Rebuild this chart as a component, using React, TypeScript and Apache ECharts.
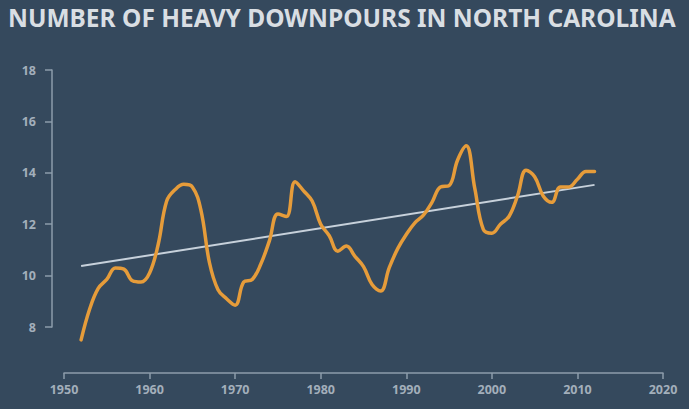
import React, { useEffect, useRef } from "react";
import * as echarts from "echarts";

const titleText = "NUMBER OF HEAVY DOWNPOURS IN NORTH CAROLINA";
const years = [
  1952, 1953, 1954, 1955, 1956, 1957, 1958, 1959, 1960, 1961,
  1962, 1963, 1964, 1965, 1966, 1967, 1968, 1969, 1970, 1971,
  1972, 1973, 1974, 1975, 1976, 1977, 1978, 1979, 1980, 1981,
  1982, 1983, 1984, 1985, 1986, 1987, 1988, 1989, 1990, 1991,
  1992, 1993, 1994, 1995, 1996, 1997, 1998, 1999, 2000, 2001,
  2002, 2003, 2004, 2005, 2006, 2007, 2008, 2009, 2010, 2011, 2012,
];
const downpours = [
  7.5, 8.7, 9.5, 9.85, 10.3, 10.25, 9.8, 9.75, 10.1, 11.2,
  12.9, 13.35, 13.55, 13.45, 12.55, 10.5, 9.45, 9.1, 8.85, 9.75,
  9.85, 10.45, 11.35, 12.4, 12.3, 13.65, 13.3, 12.9, 12.0, 11.55,
  10.95, 11.15, 10.75, 10.35, 9.65, 9.4, 10.3, 11.05, 11.6, 12.05,
  12.35, 12.85, 13.45, 13.5, 14.5, 15.05, 13.4, 11.8, 11.65, 12.0,
  12.3, 13.1, 14.1, 13.85, 13.1, 12.85, 13.45, 13.45, 13.75, 14.05, 14.05,
];
const trendYears = [1952, 2012];
const trendValues = [10.37, 13.53];

export default function App() {
  const ref = useRef<HTMLDivElement>(null);
  useEffect(() => {
    if (!ref.current) return;
    const chart = echarts.init(ref.current, undefined, { renderer: "svg" });
    const axisColor = "#8d9cab";
    const labelColor = "#a3afbb";
    chart.setOption({
      animation: false,
      backgroundColor: "#35495d",
      title: {
        text: titleText,
        left: 8,
        top: 5,
        padding: 0,
        textStyle: {
          color: "#d9dee3",
          fontSize: 24.5,
          fontWeight: "bold",
          fontFamily: "Noto Sans",
        },
      },
      grid: { left: 64, right: 26, top: 70, bottom: 82 },
      xAxis: {
        type: "value",
        min: 1950,
        max: 2020,
        interval: 10,
        offset: 46,
        splitLine: { show: false },
        axisLine: { show: true, lineStyle: { color: axisColor, width: 1.5 } },
        axisTick: { show: true, length: 6, lineStyle: { color: axisColor, width: 1.5 } },
        axisLabel: {
          color: labelColor,
          fontSize: 12.5,
          fontWeight: "bold",
          fontFamily: "Noto Sans",
          margin: 10,
          formatter: (v: number) => String(v),
        },
      },
      yAxis: {
        type: "value",
        min: 8,
        max: 18,
        interval: 2,
        offset: 12,
        splitLine: { show: false },
        axisLine: { show: true, lineStyle: { color: axisColor, width: 1.5 } },
        axisTick: { show: true, length: 7, lineStyle: { color: axisColor, width: 1.5 } },
        axisLabel: {
          color: labelColor,
          fontSize: 12.5,
          fontWeight: "bold",
          fontFamily: "Noto Sans",
          margin: 16,
        },
      },
      series: [
        {
          type: "line",
          data: trendYears.map((y, i) => [y, trendValues[i]]),
          showSymbol: false,
          clip: false,
          lineStyle: { color: "#c7d1db", width: 2 },
          z: 2,
        },
        {
          type: "line",
          data: years.map((y, i) => [y, downpours[i]]),
          smooth: 0.4,
          showSymbol: false,
          clip: false,
          lineStyle: { color: "#e69c3a", width: 3.5, cap: "round", join: "round" },
          z: 3,
        },
      ],
    });
    return () => chart.dispose();
  }, []);
  return (
    <div
      ref={ref}
      style={{ position: "fixed", left: 0, top: 0, width: 689, height: 409 }}
    />
  );
}
